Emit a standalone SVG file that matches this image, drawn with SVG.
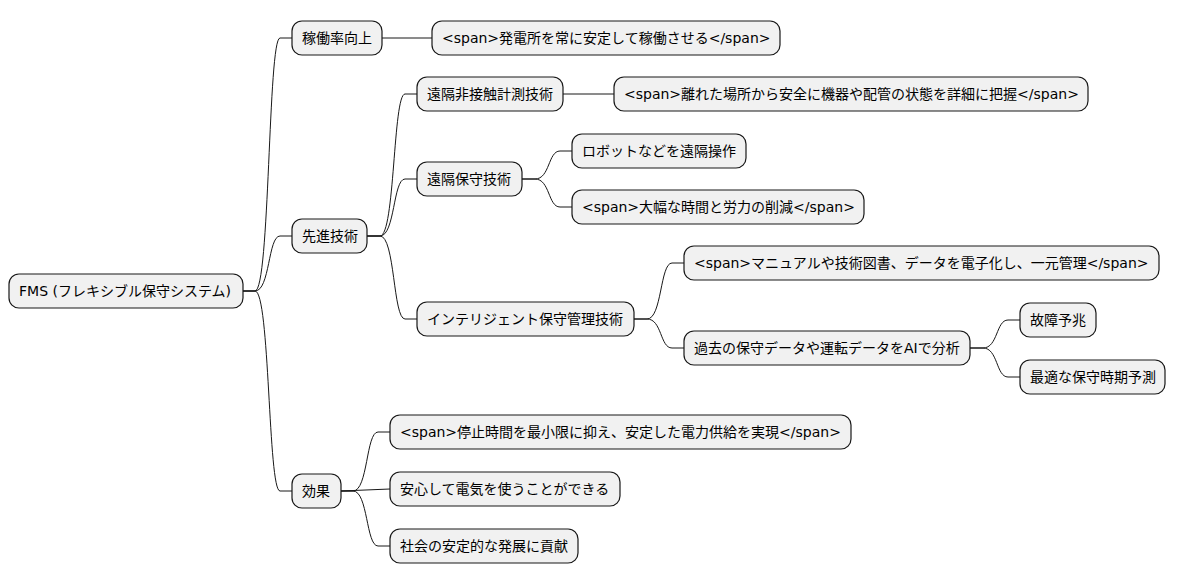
<svg xmlns="http://www.w3.org/2000/svg" width="1177" height="583" viewBox="0 0 1177 583">
<style>
rect{fill:#f1f1f1;stroke:#181818;stroke-width:1.2}
text{font-family:"DejaVu Sans","Noto Sans CJK JP",sans-serif;font-size:14px;fill:#000;dominant-baseline:central}
path{fill:none;stroke:#181818;stroke-width:1}
</style>
<rect x="0" y="0" width="1177" height="583" style="fill:#fff;stroke:none"/>
<g id="connectors">
<path d="M243,291 L255,291 C270,291 268,38 280,38 L292,38"/>
<path d="M243,291 L255,291 C270,291 268,236 280,236 L292,236"/>
<path d="M243,291 L255,291 C270,291 268,491 280,491 L292,491"/>
<path d="M382,38 L432,38"/>
<path d="M367,236 L380,236 C395,236 393,94 405,94 L417,94"/>
<path d="M367,236 L380,236 C395,236 393,179 405,179 L417,179"/>
<path d="M367,236 L380,236 C395,236 393,319 405,319 L417,319"/>
<path d="M563,94 L614,94"/>
<path d="M522,179 L535,179 C550,179 548,151 560,151 L572,151"/>
<path d="M522,179 L535,179 C550,179 548,207 560,207 L572,207"/>
<path d="M634,319 L647,319 C662,319 660,263 672,263 L684,263"/>
<path d="M634,319 L647,319 C662,319 660,348 672,348 L684,348"/>
<path d="M970,348 L983,348 C998,348 996,320 1008,320 L1020,320"/>
<path d="M970,348 L983,348 C998,348 996,377 1008,377 L1020,377"/>
<path d="M341,491 L353,491 C368,491 366,432 378,432 L390,432"/>
<path d="M341,491 L390,489"/>
<path d="M341,491 L353,491 C368,491 366,546 378,546 L390,546"/>
</g>
<g id="n0"><rect x="9" y="274" width="234" height="34" rx="10"/><text x="19" y="291">FMS (フレキシブル保守システム)</text></g>
<g id="n1"><rect x="292" y="21" width="90" height="34" rx="10"/><text x="302" y="38">稼働率向上</text></g>
<g id="n2"><rect x="432" y="21" width="348" height="34" rx="10"/><text x="442" y="38">&lt;span&gt;発電所を常に安定して稼働させる&lt;/span&gt;</text></g>
<g id="n3"><rect x="292" y="219" width="75" height="34" rx="10"/><text x="302" y="236">先進技術</text></g>
<g id="n4"><rect x="417" y="77" width="146" height="34" rx="10"/><text x="427" y="94">遠隔非接触計測技術</text></g>
<g id="n5"><rect x="614" y="77" width="474" height="34" rx="10"/><text x="624" y="94">&lt;span&gt;離れた場所から安全に機器や配管の状態を詳細に把握&lt;/span&gt;</text></g>
<g id="n6"><rect x="417" y="162" width="105" height="34" rx="10"/><text x="427" y="179">遠隔保守技術</text></g>
<g id="n7"><rect x="572" y="134" width="174" height="34" rx="10"/><text x="582" y="151">ロボットなどを遠隔操作</text></g>
<g id="n8"><rect x="572" y="190" width="292" height="34" rx="10"/><text x="582" y="207">&lt;span&gt;大幅な時間と労力の削減&lt;/span&gt;</text></g>
<g id="n9"><rect x="417" y="302" width="217" height="34" rx="10"/><text x="427" y="319">インテリジェント保守管理技術</text></g>
<g id="n10"><rect x="684" y="246" width="475" height="34" rx="10"/><text x="694" y="263">&lt;span&gt;マニュアルや技術図書、データを電子化し、一元管理&lt;/span&gt;</text></g>
<g id="n11"><rect x="684" y="331" width="286" height="34" rx="10"/><text x="694" y="348">過去の保守データや運転データをAIで分析</text></g>
<g id="n12"><rect x="1020" y="303" width="76" height="34" rx="10"/><text x="1030" y="320">故障予兆</text></g>
<g id="n13"><rect x="1020" y="360" width="145" height="34" rx="10"/><text x="1030" y="377">最適な保守時期予測</text></g>
<g id="n14"><rect x="292" y="474" width="49" height="34" rx="10"/><text x="302" y="491">効果</text></g>
<g id="n15"><rect x="390" y="415" width="461" height="34" rx="10"/><text x="400" y="432">&lt;span&gt;停止時間を最小限に抑え、安定した電力供給を実現&lt;/span&gt;</text></g>
<g id="n16"><rect x="390" y="472" width="230" height="34" rx="10"/><text x="400" y="489">安心して電気を使うことができる</text></g>
<g id="n17"><rect x="390" y="529" width="188" height="34" rx="10"/><text x="400" y="546">社会の安定的な発展に貢献</text></g>
</svg>
